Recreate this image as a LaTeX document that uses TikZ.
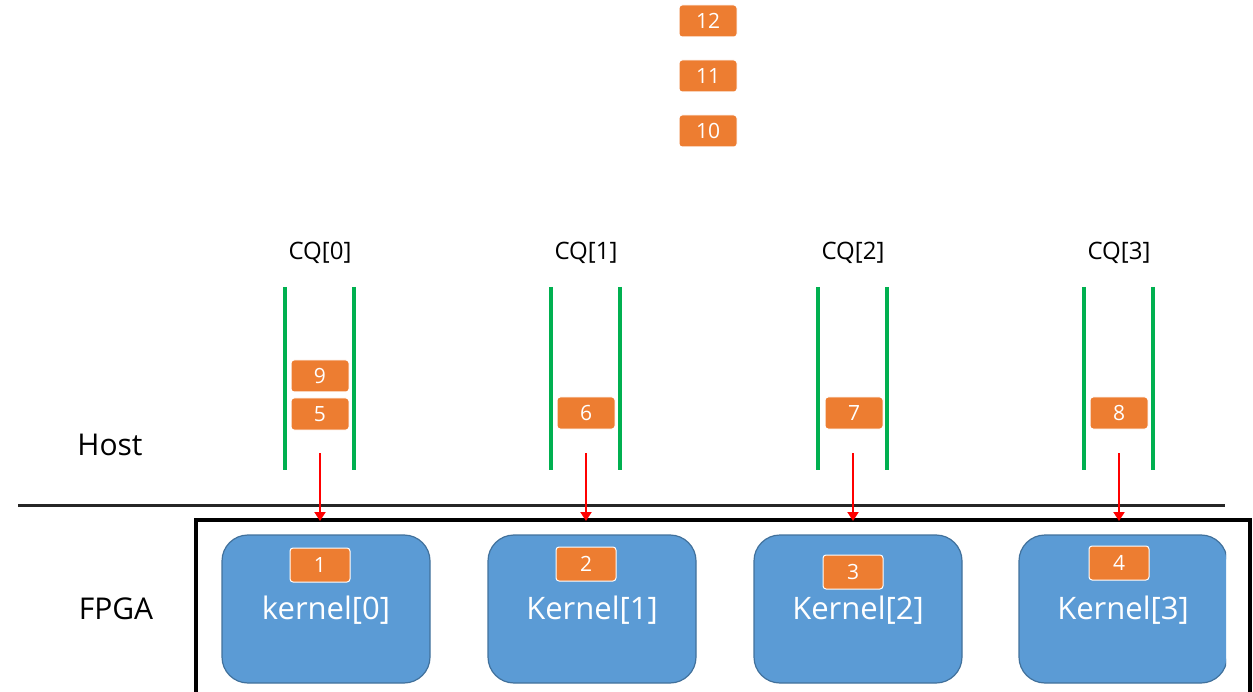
\documentclass[tikz,border=0pt]{standalone}
\usepackage{fontspec}
\setmainfont{Open Sans}
\usetikzlibrary{arrows.meta}
\definecolor{org}{RGB}{237,125,49}
\definecolor{grn}{RGB}{0,176,80}
\definecolor{kfill}{RGB}{91,155,213}
\definecolor{kedge}{RGB}{65,113,156}
\tikzset{
  tok/.style={fill=org, draw=white, line width=1pt, rounded corners=3pt, minimum width=58pt, minimum height=32pt, inner sep=0pt, text=white, font=\fontsize{21}{21}\selectfont},
  qline/.style={grn, line width=4pt},
  kbox/.style={fill=kfill, draw=kedge, line width=1.2pt, rounded corners=26pt, minimum width=208pt, minimum height=148pt, inner sep=0pt},
  klabel/.style={text=white, font=\fontsize{31}{31}\selectfont},
  cqlabel/.style={font=\fontsize{24}{24}\selectfont},
  side/.style={font=\fontsize{30}{30}\selectfont},
  feed/.style={red, line width=2pt, -{Triangle[width=11pt,length=9pt]}}
}
\begin{document}
\begin{tikzpicture}[x=1pt,y=-1pt]
\useasboundingbox (0,0) rectangle (1253,692);
% top tokens
\node[tok] (t12) at (708,21) {12};
\node[tok] (t11) at (708,76) {11};
\node[tok] (t10) at (708,131) {10};
% side labels
\node[side] (host) at (110,445) {Host};
\node[side] (fpga) at (116,609) {FPGA};
% separator
\coordinate (sepL) at (18,505);
\coordinate (sepR) at (1225,505);
\draw[line width=3pt, black!85] (sepL) -- (sepR);
% FPGA box
\draw[line width=4pt] (1250,720) -- (1250,520) -- (196,520) -- (196,720);
% queues
\foreach \i/\x in {0/320,1/586,2/853,3/1119}{
  \node[cqlabel] (cq\i) at (\x,253) {CQ[\i]};
  \draw[qline] (\x-35,287) -- (\x-35,470);
  \draw[qline] (\x+34,287) -- (\x+34,470);
  \coordinate (qs\i) at (\x,453);
  \coordinate (qe\i) at (\x,521);
  \draw[feed] (qs\i) -- (qe\i);
}
\node[tok] (t9) at (320,376) {9};
\node[tok] (t5) at (320,414) {5};
\node[tok] (t6) at (586,413) {6};
\node[tok] (t7) at (854,413) {7};
\node[tok] (t8) at (1119,413) {8};
% kernels
\begin{scope}
\clip (0,0) rectangle (1226,692);
\node[kbox] (k0) at (326,609) {};
\node[kbox] (k1) at (592,609) {};
\node[kbox] (k2) at (858,609) {};
\node[kbox] (k3) at (1123,609) {};
\end{scope}
\node[klabel] (l0) at (326,610) {kernel[0]};
\node[klabel] (l1) at (592,610) {Kernel[1]};
\node[klabel] (l2) at (858,610) {Kernel[2]};
\node[klabel] (l3) at (1123,610) {Kernel[3]};
\node[tok, minimum width=60pt, minimum height=34pt] (t1) at (320,565) {1};
\node[tok, minimum width=60pt, minimum height=34pt] (t2) at (586,564) {2};
\node[tok, minimum width=60pt, minimum height=34pt] (t3) at (853,572) {3};
\node[tok, minimum width=60pt, minimum height=34pt] (t4) at (1119,563) {4};
\end{tikzpicture}
\end{document}
